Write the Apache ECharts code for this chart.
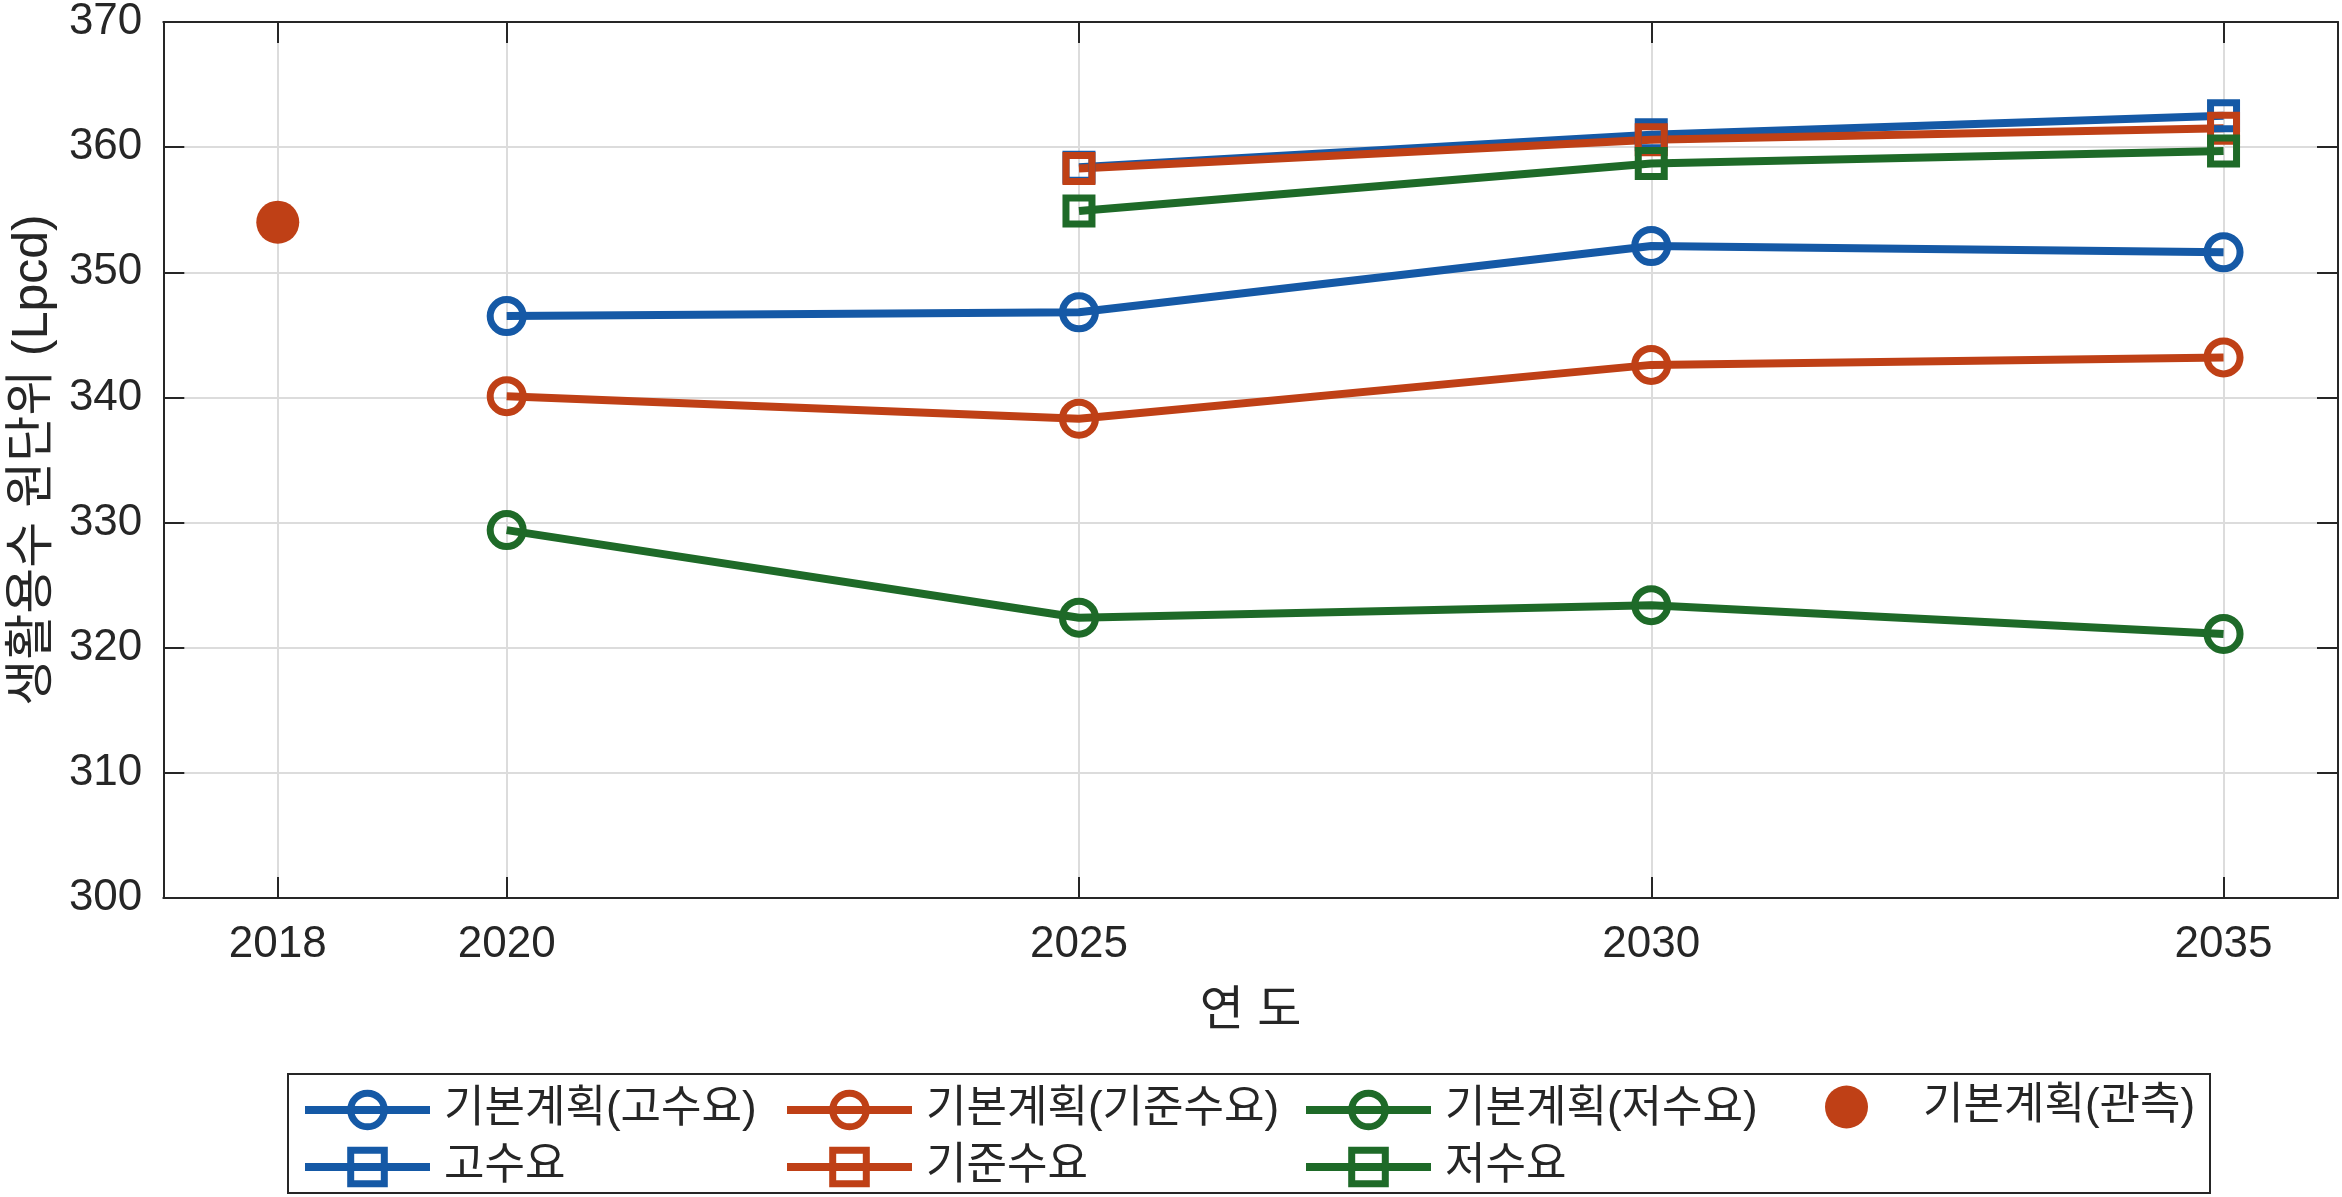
<!DOCTYPE html>
<html lang="ko">
<head>
    <meta charset="utf-8">
    <title>생활용수 원단위</title>
    <script src="https://cdn.jsdelivr.net/npm/echarts@6/dist/echarts.min.js"></script>
    <style>
        html, body { margin: 0; padding: 0; background: #fff; }
        #main { width: 2342px; height: 1197px; }
    </style>
</head>
<body>
<div id="main"></div>
<script>
    // data
    var planYears = [2020, 2025, 2030, 2035];
    var planHigh = [346.5, 346.8, 352.1, 351.6];
    var planBase = [340.1, 338.3, 342.6, 343.2];
    var planLow = [329.4, 322.4, 323.4, 321.1];
    var scenYears = [2025, 2030, 2035];
    var high = [358.4, 361.0, 362.5];
    var base = [358.3, 360.6, 361.5];
    var low = [354.9, 358.7, 359.7];
    var obsYears = [2018];
    var obs = [354.0];
    var xTicks = [2018, 2020, 2025, 2030, 2035];

    var names = ['기본계획(고수요)', '기본계획(기준수요)', '기본계획(저수요)', '기본계획(관측)', '고수요', '기준수요', '저수요'];

    var BLUE = '#1559a6', RED = '#bf4016', GREEN = '#1e6a28', INK = '#262626';
    var FONT = "'Liberation Sans', 'Noto Sans CJK KR', sans-serif";

    function pairs(xs, ys) {
        return xs.map(function (x, i) { return [x, ys[i]]; });
    }

    function lineSeries(name, xs, ys, color, symbol, size) {
        return {
            name: name,
            type: 'line',
            data: pairs(xs, ys),
            symbol: symbol,
            symbolSize: size,
            showSymbol: true,
            lineStyle: { color: color, width: 8 },
            itemStyle: { color: 'transparent', borderColor: color, borderWidth: 7 },
            emphasis: { disabled: true },
            animation: false
        };
    }

    function legendItem(name, color) {
        return {
            name: name,
            itemStyle: { color: 'transparent', borderColor: color, borderWidth: 7 },
            lineStyle: { color: color, width: 8 }
        };
    }

    var legendText = { fontFamily: FONT, fontSize: 44, color: INK, lineHeight: 44, padding: [0, 0, 0, 9] };

    function columnLegend(left, top, data, itemHeight) {
        return {
            orient: 'vertical',
            left: left,
            top: top,
            padding: 0,
            itemGap: 13,
            itemWidth: 125,
            itemHeight: itemHeight,
            selectedMode: false,
            textStyle: legendText,
            data: data
        };
    }

    var chart = echarts.init(document.getElementById('main'));
    var option = {
        backgroundColor: '#fff',
        animation: false,
        grid: { left: 160, right: 4, top: 19, bottom: 299 },
        xAxis: [{
            type: 'value',
            min: 2017,
            max: 2036,
            name: '연 도',
            nameLocation: 'middle',
            nameGap: 90,
            nameTextStyle: { fontFamily: FONT, fontSize: 48, color: INK },
            axisLine: { show: true, lineStyle: { color: INK, width: 2 } },
            axisTick: { inside: true, length: 21, customValues: xTicks, lineStyle: { color: INK, width: 2 } },
            axisLabel: {
                customValues: xTicks, margin: 25, fontFamily: FONT, fontSize: 44, color: INK,
                formatter: function (v) { return String(v); }
            },
            splitLine: { show: true, lineStyle: { color: '#dcdcdc', width: 2 } }
        }, {
            type: 'value',
            position: 'top',
            min: 2017,
            max: 2036,
            axisLine: { show: true, lineStyle: { color: INK, width: 2 } },
            axisTick: { inside: true, length: 21, customValues: xTicks, lineStyle: { color: INK, width: 2 } },
            axisLabel: { show: false },
            splitLine: { show: false }
        }],
        yAxis: [{
            type: 'value',
            min: 300,
            max: 370,
            interval: 10,
            name: '생활용수 원단위 (Lpcd)',
            nameLocation: 'middle',
            nameGap: 104,
            nameTextStyle: { fontFamily: FONT, fontSize: 50, color: INK },
            axisLine: { show: true, lineStyle: { color: INK, width: 2 } },
            axisTick: { show: true, inside: true, length: 21, lineStyle: { color: INK, width: 2 } },
            axisLabel: { margin: 21, fontFamily: FONT, fontSize: 44, color: INK },
            splitLine: { show: true, lineStyle: { color: '#dcdcdc', width: 2 } }
        }, {
            type: 'value',
            position: 'right',
            min: 300,
            max: 370,
            interval: 10,
            axisLine: { show: true, lineStyle: { color: INK, width: 2 } },
            axisTick: { show: true, inside: true, length: 21, lineStyle: { color: INK, width: 2 } },
            axisLabel: { show: false },
            splitLine: { show: false }
        }],
        legend: [
            columnLegend(301, 1088, [legendItem(names[0], BLUE), legendItem(names[4], BLUE)], 42),
            columnLegend(783, 1088, [legendItem(names[1], RED), legendItem(names[5], RED)], 42),
            columnLegend(1302, 1088, [legendItem(names[2], GREEN), legendItem(names[6], GREEN)], 42),
            columnLegend(1825, 1085, [{ name: names[3], itemStyle: { color: RED, opacity: 1 } }], 43)
        ],
        graphic: [{
            type: 'rect',
            shape: { x: 288, y: 1074, width: 1922, height: 119 },
            style: { fill: 'none', stroke: INK, lineWidth: 2 },
            silent: true
        }],
        series: [
            lineSeries(names[0], planYears, planHigh, BLUE, 'circle', 33),
            lineSeries(names[1], planYears, planBase, RED, 'circle', 33),
            lineSeries(names[2], planYears, planLow, GREEN, 'circle', 33),
            {
                name: names[3],
                type: 'scatter',
                data: pairs(obsYears, obs),
                symbol: 'circle',
                symbolSize: 43,
                itemStyle: { color: RED, opacity: 1 },
                emphasis: { disabled: true }
            },
            lineSeries(names[4], scenYears, high, BLUE, 'rect', 26),
            lineSeries(names[5], scenYears, base, RED, 'rect', 26),
            lineSeries(names[6], scenYears, low, GREEN, 'rect', 26)
        ]
    };
    chart.setOption(option);
</script>
</body>
</html>
